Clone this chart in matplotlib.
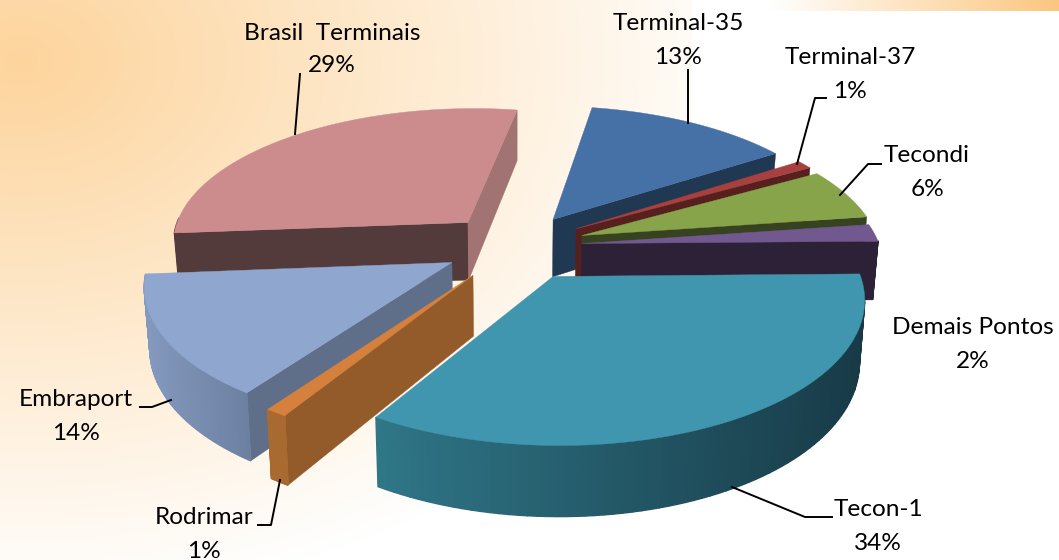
import numpy as np
from matplotlib import pyplot as plt
from matplotlib.colors import to_rgb
from matplotlib.patches import Polygon

names = ['Tecon-1', 'Rodrimar', 'Embraport', 'Brasil  Terminais', 'Terminal-35', 'Terminal-37', 'Tecondi', 'Demais Pontos']
values = [34, 1, 14, 29, 13, 1, 6, 2]
explode = [0.25, 0.25, 0.24, 0.24, 0.24, 0.245, 0.24, 0.225]

top_colors = ['#4096ae', '#d5803c', '#8fa6ce', '#cc8c8d', '#4571a7', '#a7403e', '#88a44b', '#71588f']
start_colors = ['#1b3f4b', '#935a2a', '#5f6f8a', '#533a3b', '#213853', '#55201e', '#374220', '#2c2137']
end_colors = ['#1b3f4b', '#a86a30', '#5f6f8a', '#a27373', '#213853', '#55201e', '#374220', '#2c2137']
arc_left = ['#2f7687', '#a86a30', '#8399bd', '#533a3b', '#213853', '#55201e', '#374220', '#2c2137']
arc_right = ['#183a47', '#a86a30', '#6c80a2', '#533a3b', '#213853', '#55201e', '#374220', '#2c2137']
draw_order = [3, 4, 5, 6, 7, 2, 1, 0]

# label centre x, first line y, leader line points
label_pos = [(878, 510), (204, 518), (76, 400), (332, 33), (678, 24), (850, 58), (927, 156), (973, 328)]
leaders = [
    [(832, 517), (805, 517), (732, 487)],
    [(258, 525), (271, 525), (280, 480)],
    [(140, 407), (152, 407), (171, 400)],
    [(300, 74), (295, 134)],
    [(688, 70), (688, 123)],
    [(826, 98), (815, 98), (797, 164)],
    [(881, 164), (868, 164), (840, 195)],
    [],
]

cx, cy = 515, 246
rx, ry = 298, 136
persp = 0.14
height = 59
start_angle = 1


def project(X, Y, drop=False):
    s = 1 / (1 + persp * Y)
    sx = cx + rx * X * s
    sy = cy - ry * Y * s
    if drop:
        sx = cx + (sx - cx) * 0.985
        sy = sy + height * s
    return np.column_stack([sx, sy])


plt.rcParams['font.family'] = ['Lato', 'DejaVu Sans']
fig = plt.figure(figsize=(10.59, 5.6), dpi=100)
ax = fig.add_axes([0, 0, 1, 1])
ax.set_xlim(0, 1059)
ax.set_ylim(560, 0)
ax.axis('off')

# slide background
gx, gy = np.meshgrid(np.arange(1059), np.arange(560))
dist = np.sqrt(((gx - 20) / 740.0) ** 2 + ((gy - 60) / 540.0) ** 2)
mix = np.clip(dist, 0, 1)[..., None]
orange = np.array(to_rgb('#fdd49c'))
bg = orange * (1 - mix) + mix
bg[:, 692:] = 1
strip = np.clip((np.arange(692, 1059) - 770) / 289.0, 0, 1)[:, None]
bg[:11, 692:] = (1 - strip) + strip * np.array(to_rgb('#fbc67e'))
ax.imshow(bg, extent=(0, 1059, 560, 0), aspect='auto', zorder=0)

fractions = np.array(values) / sum(values)
edges = start_angle - np.concatenate([[0], np.cumsum(fractions)]) * 360

z = 2
for i in draw_order:
    t0, t1 = edges[i], edges[i + 1]
    mid = np.radians((t0 + t1) / 2)
    ox, oy = explode[i] * np.cos(mid), explode[i] * np.sin(mid)
    th = np.radians(np.linspace(t0, t1, 80))
    X, Y = ox + np.cos(th), oy + np.sin(th)
    top = project(X, Y)
    base = project(X, Y, drop=True)
    apex = project(np.array([ox]), np.array([oy]))
    apex_b = project(np.array([ox]), np.array([oy]), drop=True)

    # radial faces that look towards the viewer
    if np.sin(np.radians(t0 + 90)) < 0:
        ax.add_patch(Polygon([apex[0], top[0], base[0], apex_b[0]], fc=start_colors[i], ec=start_colors[i], lw=0.3, zorder=z))
    if np.sin(np.radians(t1 - 90)) < 0:
        ax.add_patch(Polygon([apex[0], top[-1], base[-1], apex_b[0]], fc=end_colors[i], ec=end_colors[i], lw=0.3, zorder=z))
    z += 1

    # outer wall, shaded from left to right
    left, right = np.array(to_rgb(arc_left[i])), np.array(to_rgb(arc_right[i]))
    x_lo, x_hi = top[:, 0].min(), top[:, 0].max()
    for k in range(len(th) - 1):
        if np.sin(th[k]) < 0.02 or np.sin(th[k + 1]) < 0.02:
            f = ((top[k, 0] + top[k + 1, 0]) / 2 - x_lo) / max(x_hi - x_lo, 1)
            c = left * (1 - f) + right * f
            ax.add_patch(Polygon([top[k], top[k + 1], base[k + 1], base[k]], fc=c, ec=c, lw=1.0, zorder=z))
    z += 1

    ax.add_patch(Polygon(np.vstack([apex, top]), fc=top_colors[i], ec=top_colors[i], lw=0.3, zorder=z))
    z += 1

for name, val, pos, line in zip(names, values, label_pos, leaders):
    ax.text(pos[0], pos[1], name, ha='center', va='center', fontsize=17.6, color='black', zorder=50)
    ax.text(pos[0], pos[1] + 33, f'{val}%', ha='center', va='center', fontsize=17.6, color='black', zorder=50)
    if line:
        ax.plot([p[0] for p in line], [p[1] for p in line], color='black', lw=1.4, zorder=49)

fig.savefig('out.png', dpi=100)
